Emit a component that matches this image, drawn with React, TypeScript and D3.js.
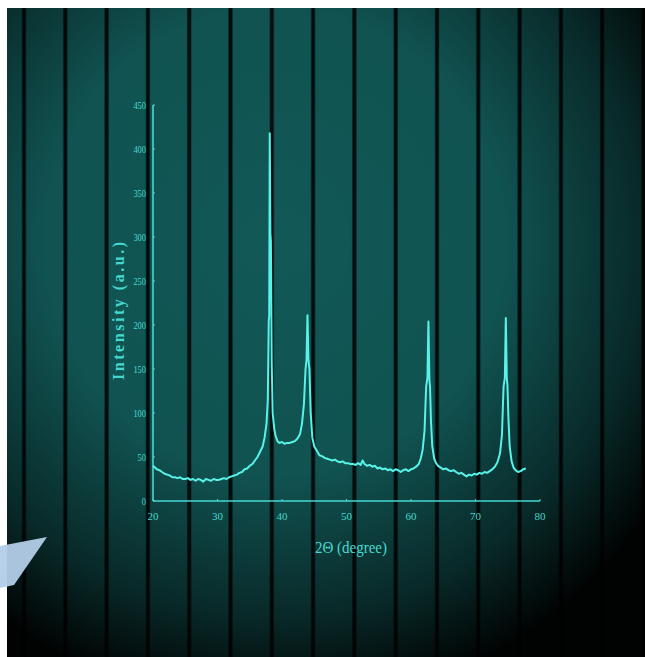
import { useMemo } from 'react';
import * as d3 from 'd3';

// XRD pattern
const twoTheta = [
  20.0, 20.3, 20.6, 21.0, 21.4, 21.8, 22.2, 22.6, 23.0, 23.4, 23.8, 24.2, 24.6, 25.0, 25.4, 25.8,
  26.2, 26.6, 27.0, 27.4, 27.8, 28.2, 28.6, 29.0, 29.4, 29.8, 30.2, 30.6, 31.0, 31.4, 31.8, 32.2,
  32.6, 33.0, 33.4, 33.8, 34.2, 34.6, 35.0, 35.4, 35.8, 36.2, 36.6, 37.0, 37.3, 37.6, 37.8, 37.95,
  38.02, 38.1, 38.2, 38.28, 38.4, 38.55, 38.8, 39.0, 39.3, 39.6, 40.0, 40.4, 40.8, 41.2, 41.6, 42.0,
  42.4, 42.8, 43.1, 43.4, 43.65, 43.8, 43.95, 44.1, 44.25, 44.45, 44.7, 45.0, 45.4, 45.8, 46.2, 46.6,
  47.0, 47.4, 47.8, 48.2, 48.6, 49.0, 49.4, 49.8, 50.2, 50.6, 51.0, 51.4, 51.8, 52.2, 52.5, 52.8,
  53.2, 53.6, 54.0, 54.4, 54.8, 55.2, 55.6, 56.0, 56.4, 56.8, 57.2, 57.6, 58.0, 58.4, 58.8, 59.2,
  59.6, 60.0, 60.4, 60.8, 61.2, 61.5, 61.8, 62.1, 62.35, 62.55, 62.7, 62.85, 62.95, 63.1, 63.3, 63.6,
  63.9, 64.2, 64.6, 65.0, 65.4, 65.8, 66.2, 66.6, 67.0, 67.4, 67.8, 68.2, 68.6, 69.0, 69.4, 69.8,
  70.2, 70.6, 71.0, 71.4, 71.8, 72.2, 72.6, 73.0, 73.4, 73.8, 74.1, 74.35, 74.55, 74.7, 74.85, 74.95,
  75.1, 75.3, 75.6, 75.9, 76.2, 76.6, 77.0, 77.4, 77.8,
];
const intensity = [
  40, 38, 36, 35, 33, 31, 30, 29, 27, 27, 26, 27, 25, 25, 26, 24,
  25, 23, 25, 24, 22, 25, 24, 23, 25, 24, 24, 25, 26, 25, 27, 28,
  29, 30, 32, 33, 36, 37, 40, 42, 46, 50, 56, 62, 72, 88, 115, 205,
  210, 418, 304, 295, 160, 100, 82, 74, 68, 66, 67, 65, 66, 66, 67, 68,
  71, 76, 88, 110, 150, 160, 211, 160, 150, 100, 72, 62, 57, 52, 51, 49,
  48, 47, 46, 47, 45, 44, 45, 43, 43, 42, 42, 41, 43, 41, 46, 42,
  40, 41, 39, 40, 37, 38, 36, 37, 35, 36, 34, 36, 35, 33, 35, 36,
  34, 36, 37, 39, 42, 48, 58, 80, 130, 140, 204, 138, 130, 90, 62, 48,
  43, 40, 38, 36, 37, 35, 34, 35, 33, 31, 32, 30, 28, 30, 29, 31,
  30, 32, 31, 33, 32, 34, 36, 39, 44, 54, 75, 130, 140, 208, 140, 132,
  95, 62, 45, 38, 35, 33, 34, 36, 37,
];

const xTicks = [20, 30, 40, 50, 60, 70, 80];
const yTicks = [0, 50, 100, 150, 200, 250, 300, 350, 400, 450];
const xTitle = '2Θ (degree)';
const yTitle = 'Intensity (a.u.)';

const W = 645;
const H = 657;
const cyan = '#58f2e9';
const tickCyan = '#46d8d0';

export default function App() {
  const x = d3.scaleLinear().domain([20, 80]).range([153, 540]);
  const y = d3.scaleLinear().domain([0, 450]).range([501, 105]);

  const path = useMemo(() => {
    const line = d3
      .line<number>()
      .x((d) => x(d))
      .y((_, i) => y(intensity[i]));
    return line(twoTheta) || '';
  }, []);

  // dark vertical stripes of the backdrop
  const stripes = d3.range(24, W + 10, 41.3);

  return (
    <div style={{ position: 'absolute', left: 0, top: 0 }}>
      <svg width={W} height={H} style={{ display: 'block' }}>
        <defs>
          <radialGradient id="vig" cx="0.42" cy="0.36" r="0.72">
            <stop offset="0%" stopColor="#000" stopOpacity={0.04} />
            <stop offset="50%" stopColor="#000" stopOpacity={0.1} />
            <stop offset="80%" stopColor="#000" stopOpacity={0.55} />
            <stop offset="100%" stopColor="#000" stopOpacity={0.97} />
          </radialGradient>
          <linearGradient id="stripe" x1="0" x2="1" y1="0" y2="0">
            <stop offset="0%" stopColor="#06201f" stopOpacity={0.4} />
            <stop offset="30%" stopColor="#010a0a" stopOpacity={0.97} />
            <stop offset="70%" stopColor="#010a0a" stopOpacity={0.97} />
            <stop offset="100%" stopColor="#06201f" stopOpacity={0.4} />
          </linearGradient>
          <clipPath id="pic">
            <rect x={7} y={8} width={W - 7} height={H - 8} />
          </clipPath>
        </defs>
        <rect width={W} height={H} fill="#fff" />
        <g clipPath="url(#pic)">
          <rect x={7} y={8} width={W - 7} height={H - 8} fill="#125c5a" />
          {stripes.map((s, i) => (
            <rect key={i} x={s - 2.5} y={8} width={5} height={H} fill="url(#stripe)" />
          ))}
          <rect x={7} y={8} width={W - 7} height={H - 8} fill="url(#vig)" />
        </g>

        {/* axes */}
        <line x1={x(20)} x2={x(80)} y1={y(0)} y2={y(0)} stroke={tickCyan} strokeWidth={1.6} />
        <line x1={x(20)} x2={x(20)} y1={y(0)} y2={y(450)} stroke={tickCyan} strokeWidth={1.6} />
        {xTicks.map((t) => (
          <g key={t}>
            <line x1={x(t)} x2={x(t)} y1={y(0)} y2={y(0) - 2} stroke={tickCyan} strokeWidth={1} />
            <text
              x={x(t)}
              y={y(0) + 19}
              textAnchor="middle"
              fontFamily="Liberation Serif"
              fontSize={11}
              fill={tickCyan}
              textLength={11}
              lengthAdjust="spacingAndGlyphs"
            >
              {t}
            </text>
          </g>
        ))}
        {yTicks.map((t) => (
          <g key={t}>
            <line x1={x(20)} x2={x(20) + 2} y1={y(t)} y2={y(t)} stroke={tickCyan} strokeWidth={1} />
            <text
              x={x(20) - 7}
              y={y(t) + 4}
              textAnchor="end"
              fontFamily="Liberation Serif"
              fontSize={11}
              fill={tickCyan}
              textLength={String(t).length * 4.2}
              lengthAdjust="spacingAndGlyphs"
            >
              {t}
            </text>
          </g>
        ))}
        <text
          transform={`translate(124, ${311}) rotate(-90)`}
          textAnchor="middle"
          fontFamily="Liberation Serif"
          fontWeight="bold"
          fontSize={16}
          fill={tickCyan}
          textLength={138}
          lengthAdjust="spacing"
        >
          {yTitle}
        </text>
        <text
          x={351}
          y={553}
          textAnchor="middle"
          fontFamily="Liberation Serif"
          fontSize={17}
          fill={tickCyan}
          textLength={72}
          lengthAdjust="spacingAndGlyphs"
        >
          {xTitle}
        </text>

        <path d={path} fill="none" stroke={cyan} strokeWidth={2} strokeLinejoin="round" />

        {/* pale watermark shape at the lower left edge */}
        <path d="M0,546 L47,537 L14,585 L0,588 Z" fill="#b3cde8" opacity={0.95} />
      </svg>
    </div>
  );
}
